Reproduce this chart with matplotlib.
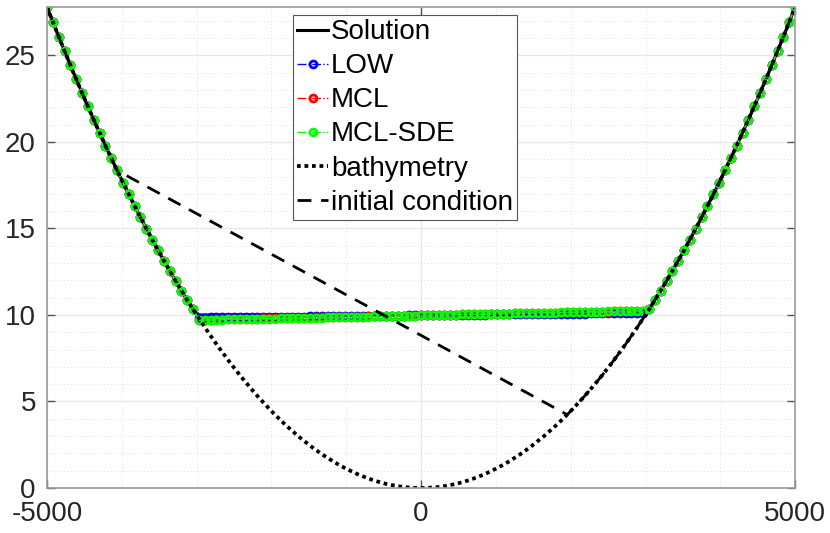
import numpy as np
import matplotlib
matplotlib.use("Agg")
import matplotlib.pyplot as plt
from matplotlib.ticker import MultipleLocator

plt.rcParams['font.family'] = ['Liberation Sans', 'DejaVu Sans']
plt.rcParams['axes.unicode_minus'] = False

# grid nodes (129 points across the bowl)
x = np.linspace(-5000, 5000, 129)

# bathymetry read at each node
bathymetry = [
    27.80, 26.94, 26.09, 25.26, 24.43, 23.63, 22.83, 22.05, 21.28, 20.53,
    19.79, 19.07, 18.35, 17.65, 16.97, 16.30, 15.64, 14.99, 14.36, 13.74,
    13.14, 12.55, 11.97, 11.41, 10.86, 10.32, 9.80, 9.29, 8.80, 8.31,
    7.85, 7.39, 6.95, 6.52, 6.11, 5.71, 5.32, 4.95, 4.59, 4.24,
    3.91, 3.59, 3.29, 2.99, 2.72, 2.45, 2.20, 1.96, 1.74, 1.53,
    1.33, 1.15, 0.98, 0.82, 0.68, 0.55, 0.43, 0.33, 0.24, 0.17,
    0.11, 0.06, 0.03, 0.01, 0.00,
    0.01, 0.03, 0.06, 0.11, 0.17, 0.24, 0.33, 0.43, 0.55, 0.68,
    0.82, 0.98, 1.15, 1.33, 1.53, 1.74, 1.96, 2.20, 2.45, 2.72,
    2.99, 3.29, 3.59, 3.91, 4.24, 4.59, 4.95, 5.32, 5.71, 6.11,
    6.52, 6.95, 7.39, 7.85, 8.31, 8.80, 9.29, 9.80, 10.32, 10.86,
    11.41, 11.97, 12.55, 13.14, 13.74, 14.36, 14.99, 15.64, 16.30, 16.97,
    17.65, 18.35, 19.07, 19.79, 20.53, 21.28, 22.05, 22.83, 23.63, 24.43,
    25.26, 26.09, 26.94, 27.80,
]

lake_level = 10.0
wet_start, wet_end = 26, 103   # wet nodes in the numerical results

# free surface in the wet region (nodes 26..102)
low_wet = [
    9.85, 9.85, 9.86, 9.86, 9.86, 9.87, 9.87, 9.87, 9.88, 9.88,
    9.89, 9.89, 9.89, 9.90, 9.90, 9.90, 9.91, 9.91, 9.91, 9.92,
    9.92, 9.92, 9.93, 9.93, 9.94, 9.94, 9.94, 9.95, 9.95, 9.95,
    9.96, 9.96, 9.96, 9.97, 9.97, 9.97, 9.98, 9.98, 9.98, 9.99,
    9.99, 10.00, 10.00, 10.00, 10.01, 10.01, 10.01, 10.02, 10.02, 10.02,
    10.03, 10.03, 10.03, 10.04, 10.04, 10.05, 10.05, 10.05, 10.06, 10.06,
    10.06, 10.07, 10.07, 10.07, 10.08, 10.08, 10.08, 10.09, 10.09, 10.09,
    10.10, 10.10, 10.11, 10.11, 10.11, 10.12, 10.12,
]
mcl_wet = [
    9.72, 9.73, 9.73, 9.74, 9.75, 9.75, 9.76, 9.77, 9.77, 9.78,
    9.79, 9.80, 9.80, 9.81, 9.82, 9.82, 9.83, 9.84, 9.84, 9.85,
    9.86, 9.86, 9.87, 9.88, 9.88, 9.89, 9.90, 9.90, 9.91, 9.92,
    9.93, 9.93, 9.94, 9.95, 9.95, 9.96, 9.97, 9.97, 9.98, 9.99,
    9.99, 10.00, 10.01, 10.01, 10.02, 10.03, 10.03, 10.04, 10.05, 10.06,
    10.06, 10.07, 10.08, 10.08, 10.09, 10.10, 10.10, 10.11, 10.12, 10.12,
    10.13, 10.14, 10.14, 10.15, 10.16, 10.16, 10.17, 10.18, 10.19, 10.19,
    10.20, 10.21, 10.21, 10.22, 10.23, 10.23, 10.24,
]
sde_wet = [
    9.70, 9.71, 9.71, 9.72, 9.73, 9.74, 9.74, 9.75, 9.76, 9.77,
    9.77, 9.78, 9.79, 9.79, 9.80, 9.81, 9.82, 9.82, 9.83, 9.84,
    9.84, 9.85, 9.86, 9.87, 9.87, 9.88, 9.89, 9.90, 9.90, 9.91,
    9.92, 9.92, 9.93, 9.94, 9.95, 9.95, 9.96, 9.97, 9.98, 9.98,
    9.99, 10.00, 10.00, 10.01, 10.02, 10.03, 10.03, 10.04, 10.05, 10.05,
    10.06, 10.07, 10.08, 10.08, 10.09, 10.10, 10.11, 10.11, 10.12, 10.13,
    10.13, 10.14, 10.15, 10.16, 10.16, 10.17, 10.18, 10.19, 10.19, 10.20,
    10.21, 10.21, 10.22, 10.23, 10.24, 10.24, 10.25,
]

# initial condition: straight surface between these two nodes, dry elsewhere
ic_left, ic_right = 12, 89

b = np.array(bathymetry)


def with_dry(wet):
    # dry nodes sit on the bathymetry
    return np.concatenate([b[:wet_start], wet, b[wet_end:]])


solution = np.maximum(b, lake_level)
ic_x = np.concatenate([x[:ic_left + 1], x[ic_right:]])
ic_y = np.concatenate([b[:ic_left + 1], b[ic_right:]])

fig = plt.figure(figsize=(8.3, 5.33), dpi=100)
ax = fig.add_axes([0.0566, 0.0844, 0.9014, 0.9025])

ax.plot(x, solution, '-', color='k', lw=2.2, label='Solution')
mk = dict(marker='o', ms=5.0, mew=2.0, mfc='none', lw=1.0, linestyle='-.')
ax.plot(x, with_dry(low_wet), color='#0000ff', mec='#0000ff', label='LOW', **mk)
ax.plot(x, with_dry(mcl_wet), color='#ff0000', mec='#ff0000', label='MCL', **mk)
ax.plot(x, with_dry(sde_wet), color='#00ff00', mec='#00ff00', label='MCL-SDE', **mk)
ax.plot(x, b, color='k', lw=2.7, linestyle=(0, (1, 1)), label='bathymetry')
ax.plot(ic_x, ic_y, color='k', lw=2.0, linestyle=(0, (5, 3.5)), label='initial condition')

ax.set_xlim(-5000, 5000)
ax.set_ylim(0, 27.8)
ax.set_xticks([-5000, 0, 5000])
ax.set_yticks([0, 5, 10, 15, 20, 25])
ax.xaxis.set_minor_locator(MultipleLocator(1000))
ax.yaxis.set_minor_locator(MultipleLocator(1))

ax.grid(True, which='major', color='#e6e6e6', lw=0.9, linestyle='-')
ax.grid(True, which='minor', color='#d4d4d4', lw=0.6, linestyle=(0, (1, 3)))
ax.set_axisbelow(True)

for s in ax.spines.values():
    s.set_color('#9a9a9a')
    s.set_linewidth(1.2)
ax.tick_params(which='major', direction='in', length=6, width=1.0, color='#555555',
               labelsize=20, labelcolor='#262626', top=True, right=True)
ax.tick_params(axis='x', which='major', pad=9)
ax.tick_params(axis='y', which='major', pad=8)
ax.tick_params(which='minor', length=0)

leg = ax.legend(loc='upper left', bbox_to_anchor=(0.329, 0.983), fontsize=20,
                frameon=True, fancybox=False, framealpha=1, edgecolor='#555555',
                handlelength=1.1, handletextpad=0.12, labelspacing=0.29,
                borderpad=0.15, borderaxespad=0, numpoints=1)
leg.get_frame().set_linewidth(0.8)

fig.savefig('out.png', dpi=100)
